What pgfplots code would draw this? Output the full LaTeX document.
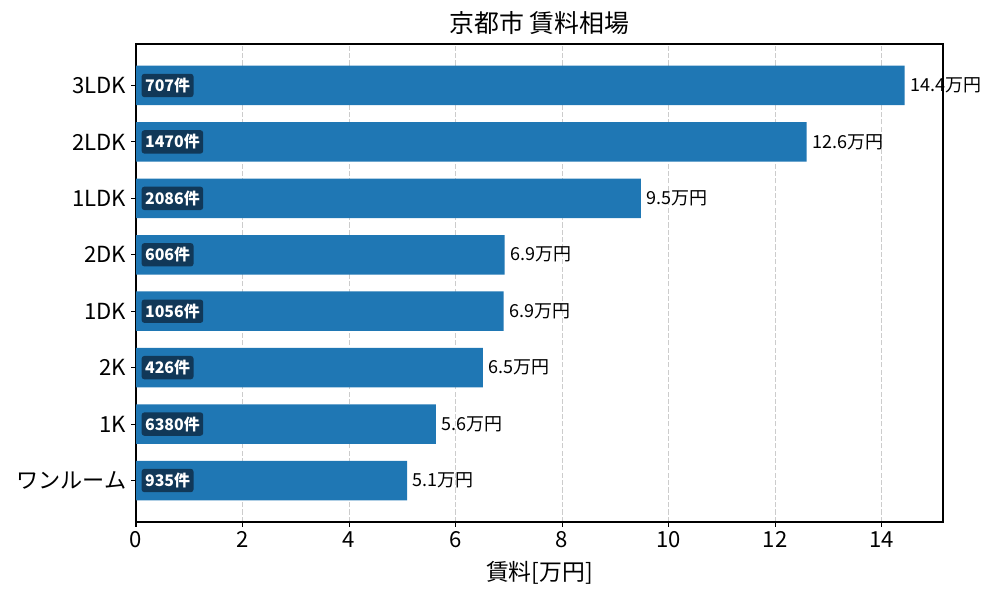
\documentclass[border=0pt]{standalone}
\usepackage{fontspec}
\setmainfont{Noto Sans CJK JP}
\usepackage{pgfplots}
\usepackage{pgfplotstable}
\pgfplotsset{compat=1.18}

\definecolor{barblue}{HTML}{1F77B4}
\definecolor{tagbg}{HTML}{113858}

% pos: row from the bottom, rent in 万円, count = listings
\pgfplotstableread{
pos rent count
0 5.09 935
1 5.63 6380
2 6.51 426
3 6.90 1056
4 6.92 606
5 9.48 2086
6 12.59 1470
7 14.43 707
}\rentdata

\tikzset{tag/.style={fill=tagbg, rounded corners=2bp, text=white, anchor=west,
    inner xsep=2.5bp, inner ysep=3bp,
    font=\bfseries\fontsize{11.5}{12}\selectfont}}

\begin{document}
\begin{tikzpicture}
\path (0,0) rectangle (720bp,432bp);
\begin{axis}[
    at={(97.92bp,56.16bp)}, anchor=south west,
    scale only axis, width=581.04bp, height=344.16bp,
    xmin=0, xmax=15.15, ymin=-0.735, ymax=7.735,
    xtick={0,2,...,14}, ytick={0,...,7},
    yticklabels={ワンルーム,1K,2K,1DK,2DK,1LDK,2LDK,3LDK},
    tick align=outside, tick pos=left,
    major tick length=3.5bp,
    axis line style={line width=0.8bp}, tick style={line width=0.8bp, black},
    xmajorgrids, ymajorgrids=false,
    grid style={gray!40, line width=0.8bp, dash pattern=on 3.7bp off 1.6bp},
    /pgf/number format/assume math mode=true,
    xticklabel style={font=\fontsize{16}{19}\selectfont},
    yticklabel style={font=\fontsize{16}{19}\selectfont},
    title={京都市 賃料相場},
    title style={font=\fontsize{18}{21}\selectfont, yshift=-3bp},
    xlabel={賃料[万円]},
    xlabel style={font=\fontsize{16.5}{19}\selectfont, yshift=-3bp},
]
\addplot[xbar, bar width=0.7, fill=barblue, draw=none,
    point meta=x,
    nodes near coords={\pgfmathprintnumber[fixed,fixed zerofill,precision=1]{\pgfplotspointmeta}万円},
    nodes near coords style={anchor=west, inner sep=0pt, xshift=4bp, text=black,
        font=\fontsize{13}{15}\selectfont}]
    table[x=rent, y=pos] {\rentdata};

\node[tag] at (axis cs:0.1,7) {707件};
\node[tag] at (axis cs:0.1,6) {1470件};
\node[tag] at (axis cs:0.1,5) {2086件};
\node[tag] at (axis cs:0.1,4) {606件};
\node[tag] at (axis cs:0.1,3) {1056件};
\node[tag] at (axis cs:0.1,2) {426件};
\node[tag] at (axis cs:0.1,1) {6380件};
\node[tag] at (axis cs:0.1,0) {935件};
\end{axis}
\end{tikzpicture}
\end{document}
